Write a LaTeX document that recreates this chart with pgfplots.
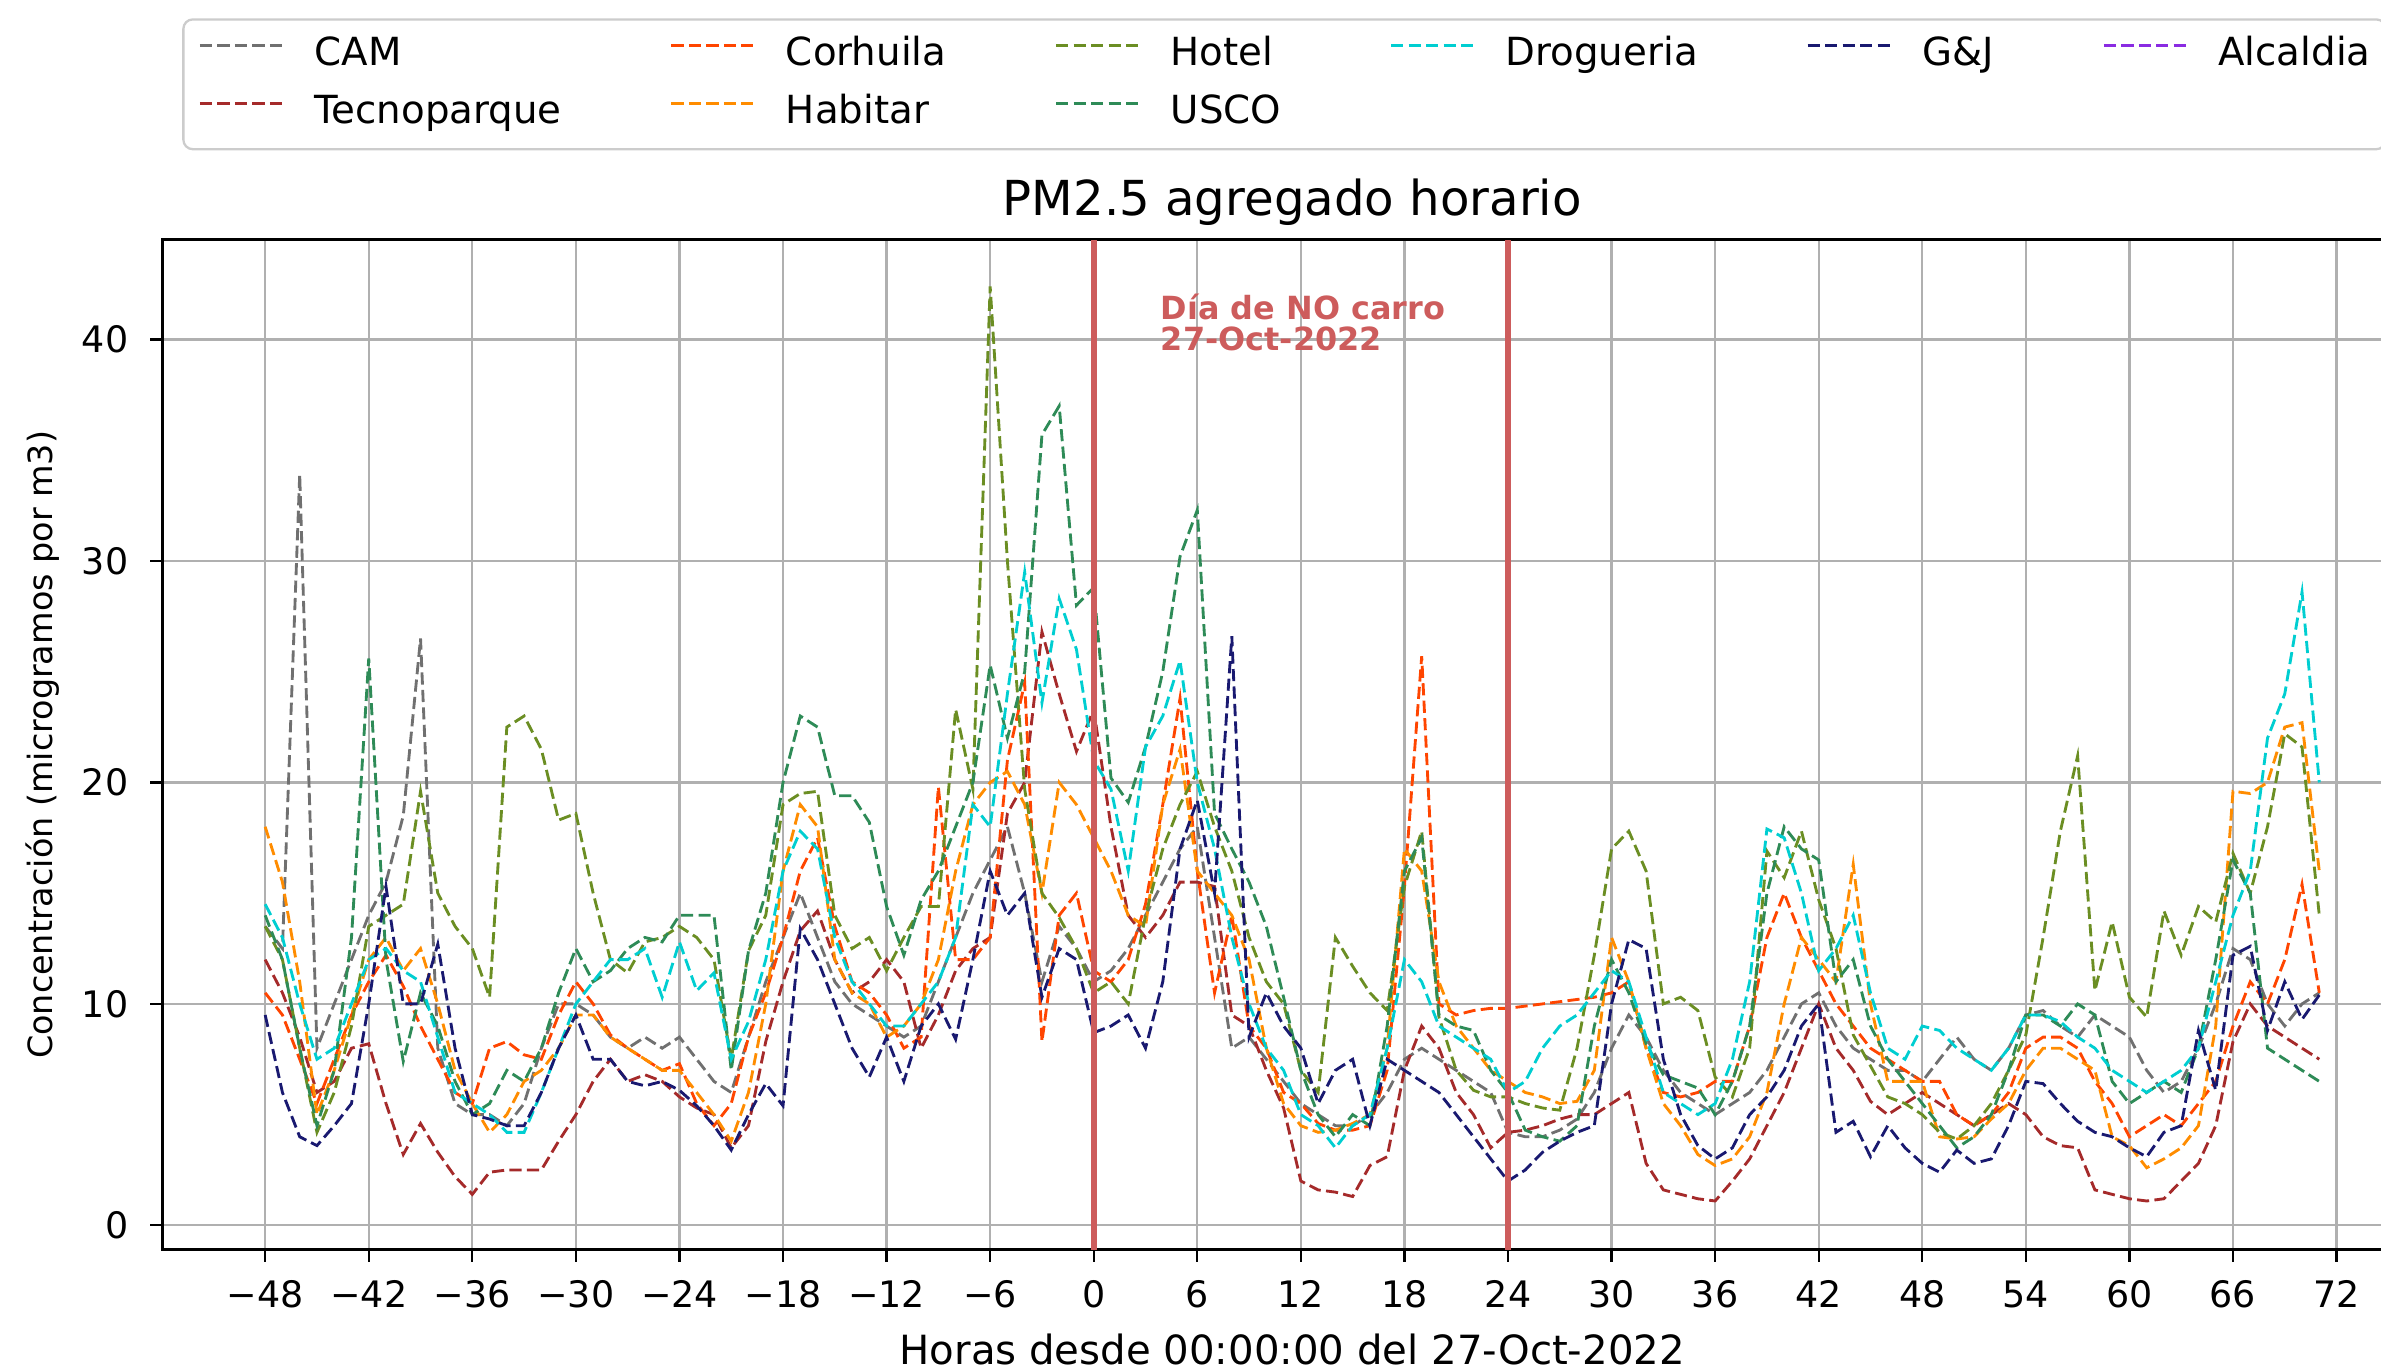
\documentclass[border=0pt]{standalone}
\usepackage{fontspec}
\setmainfont{DejaVu Sans}
\usepackage{pgfplots}
\usepackage{pgfplotstable}
\pgfplotsset{compat=1.18}

\definecolor{camc}{RGB}{112,112,112}
\definecolor{tecc}{RGB}{165,42,42}
\definecolor{corc}{RGB}{255,69,0}
\definecolor{habc}{RGB}{255,140,0}
\definecolor{hotc}{RGB}{107,142,35}
\definecolor{uscc}{RGB}{46,139,87}
\definecolor{droc}{RGB}{0,206,209}
\definecolor{gjc}{RGB}{25,25,112}
\definecolor{alcc}{RGB}{138,43,226}
\definecolor{indianred}{RGB}{205,92,92}

% horas desde 00:00 del 27-Oct-2022, PM2.5 por estacion
\pgfplotstableread{
h    cam  tec  cor  hab  hot  usc  dro  gj
-48 13.5 12 10.5 18 13.5 14 14.5 9.5
-47 12.5 10.5 9.5 15.5 12 12 13 6
-46 33.9 8.5 7.5 11 8 8 10 4
-45 8 6 5.5 5 4.2 4.5 7.5 3.6
-44 10 6.5 7.5 7 6 7 8 4.5
-43 12 8 9.5 9.5 9 13 10 5.5
-42 14 8.2 11 12 13.5 25.6 12 10
-41 15.5 5.5 12.2 13 14 12 12.5 15.3
-40 18.5 3.2 10.8 11.5 14.5 7.4 11.5 10
-39 26.5 4.6 9 12.5 19.6 10.5 11 10
-38 8 3.3 7.5 10 15 9 8.5 12.7
-37 5.5 2.2 6 7 13.5 6.5 6 8
-36 5 1.4 5.5 5.5 12.5 5 5.5 5
-35 5 2.4 8 4.2 10.3 5.5 5 4.8
-34 4.5 2.5 8.3 5 22.5 7 4.2 4.5
-33 5.5 2.5 7.7 6.5 23 6.5 4.2 4.5
-32 8 2.5 7.5 7 21.5 8 6 6
-31 10 3.8 9.5 8 18.3 10.5 8 8
-30 10 5 11 9.5 18.6 12.5 10 9.5
-29 9.5 6.5 10 9.5 15 11 11 7.5
-28 8.5 7.5 8.6 8.5 12 11.5 12 7.5
-27 8 6.5 8 8 11.4 12.5 12 6.5
-26 8.5 6.8 7.5 7.5 12.8 13 12.5 6.3
-25 8 6.5 7 7 13 12.8 10.3 6.5
-24 8.5 5.8 7.3 7 13.5 14 12.8 6.1
-23 7.5 5.3 5.5 6 13 14 10.6 5.4
-22 6.5 5 4.5 5 12 14 11.4 4.5
-21 6 3.5 5.5 3.8 7.5 7 7.5 3.4
-20 8.5 4.5 8.5 6 12.4 12.4 9.2 5
-19 11 8.3 10.5 10 14 15 12 6.4
-18 13 11 13 16 19 20 16 5.4
-17 15 13.3 16 19 19.5 23 17.8 13.4
-16 13 14.2 17.5 18 19.6 22.5 17 12
-15 11 12 13.5 12 14 19.4 13 10
-14 10 10.5 11 10.5 12.5 19.4 11 8
-13 9.5 11 10.5 10 13 18.2 10 6.7
-12 9 12 9.5 8.5 11.5 14.4 9 8.5
-11 8.5 11 8 9 13 12.2 9 6.5
-10 9 8 8.5 10 14.4 14.7 10 9
-9 11 9.5 19.8 12 14.4 16 11 10
-8 13 11.5 12 16 23.3 18 13 8.4
-7 15 12.5 12 19 19.7 20 19 12
-6 16.5 13 13 20 42.4 25.3 18 16
-5 18 18.6 21 20.5 30 22 24 14
-4 15 20 24.5 19 19.7 25 29.5 15
-3 11 26.8 8.3 15 15 35.7 23.6 10.3
-2 13.5 24 14 20 13.9 37 28.3 12.5
-1 12.5 21.4 15 19 12.5 28 26 12
0 11 23.3 11.5 17.5 10.5 28.8 21 8.7
1 11.5 18 11 16 11 20.2 19.7 9
2 12.5 14 12 14 10 19.1 16 9.5
3 14 13 14.5 13.5 14 21.6 21.6 8
4 15.5 14 19 19 17 25 23 11
5 17 15.5 23.8 21.5 19 30.2 25.5 17
6 18 15.5 16 16 20.5 32.3 20 19.2
7 13 15.3 10.5 15 18 18.6 17 15
8 8 9.5 14 14 16 17 13 26.6
9 8.5 9 9 12 13 15.5 10 8.5
10 7.5 7 8 8 11 13.5 8 10.5
11 6.5 5.3 6 5.5 10 10.3 7 9
12 5.5 2 5.5 4.5 7 7 5 8
13 5 1.6 4.6 4.2 6 5 4.5 5.5
14 4.5 1.5 4.3 4.3 13 4 3.5 7
15 4.5 1.3 4.3 4.6 11.7 5 4.5 7.5
16 5 2.7 4.5 5 10.5 4.5 5 4.5
17 6 3.1 7 8 9.7 9 8 7.5
18 7.5 7 15.3 17 15.3 16 12 7
19 8 9 25.7 16 17.8 17.5 11 6.5
20 7.5 8 10 11 9.4 9.5 9 6
21 7 6 9.5 9 7 9 8.5 5
22 6.5 5 9.7 8 6.1 8.8 8 4
23 6 3.5 9.8 7 5.8 7 7.5 3
24 4.2 4.2 9.8 6.5 5.8 6 6 2
25 4 4.3 9.9 6 5.5 4.3 6.5 2.5
26 4 4.5 10 5.8 5.3 4 8 3.3
27 4.3 4.8 10.1 5.5 5.2 3.8 9 3.8
28 4.8 5 10.2 5.6 8 4.5 9.5 4.2
29 6 5 10.3 7 12.2 9 10.5 4.5
30 8 5.5 10.5 13 17 12 11.5 10
31 9.5 6 11 11 17.8 10.5 11 12.9
32 8.5 2.8 8 8 16 8.2 8.5 12.5
33 7 1.6 6 5.5 10 6.8 6 7.5
34 6 1.4 5.8 4.5 10.3 6.5 5.5 5
35 5.5 1.2 6 3.2 9.7 6.2 5 3.6
36 5 1.1 6.5 2.7 6.7 5 5.5 3
37 5.5 2 6.5 3 5.8 6.5 7.5 3.5
38 6 3 9 4 8 9 11 5
39 7 4.5 13 6 16.9 15 17.9 5.8
40 8.5 6 15 10 15.7 18 17.5 7
41 10 8 13 13 17.8 17 15 9
42 10.5 10 11.5 12 14.7 16.5 11.5 10
43 9 8 10 11 12.5 11 12.5 4.2
44 8 7 9 16.3 8.6 12 14 4.7
45 7.5 5.6 8 10 7.2 9 10.5 3.1
46 7 5 7.5 6.5 5.8 7.5 8 4.5
47 7 5.5 7 6.5 5.5 6.5 7.5 3.5
48 6.5 6 6.5 6.5 5 5.5 9 2.8
49 7.5 5.5 6.5 4 4.2 4.5 8.8 2.4
50 8.5 5 5 3.9 3.9 3.5 8 3.4
51 7.5 4.5 4.5 4 4.5 4 7.5 2.8
52 7 5 5 4.8 5.5 5 7 3
53 8 5.5 6 5.5 7 7 8 4.5
54 9.5 5 8 7 8.6 9.5 9.5 6.5
55 9.7 4 8.5 8 13 9.5 9.5 6.4
56 9 3.6 8.5 8 17.8 9 9.2 5.5
57 8.5 3.5 8 7.5 21.2 10 8.5 4.7
58 9.5 1.6 6.5 7 10.6 9.5 8 4.2
59 9 1.4 5.5 4 13.7 6.5 7 4
60 8.5 1.2 4 3.6 10.3 5.5 6.5 3.5
61 7 1.1 4.5 2.6 9.4 6 6 3.1
62 6 1.2 5 3 14.2 6.5 6.5 4.2
63 6.5 2 4.5 3.5 12.2 6 7 4.5
64 8 2.8 5.5 4.5 14.4 8 8 8.8
65 10 4.5 6.5 9 13.7 12 11 6.1
66 12.5 8.3 9 19.6 16.8 16.5 14 12.2
67 12 10 11 19.5 15 15 16 12.6
68 10 9 10 20 18 8 22 8.8
69 9 8.5 12 22.5 22.2 7.5 24 11
70 10 8 15.4 22.7 21.6 7 28.6 9.3
71 10.5 7.5 10.5 16 14 6.5 20 10.4
}\pm

\begin{document}
\begin{tikzpicture}
\begin{axis}[
  scale only axis,
  width=595.2pt, height=266pt,
  xmin=-53.95, xmax=76.95,
  ymin=-1.1, ymax=44.5,
  xtick={-48,-42,...,72},
  xticklabels={−48,−42,−36,−30,−24,−18,−12,−6,0,6,12,18,24,30,36,42,48,54,60,66,72},
  ytick={0,10,20,30,40},
  yticklabels={0,10,20,30,40},
  tick align=outside,
  major tick length=3.2pt,
  tick style={black, line width=0.6pt},
  xtick pos=bottom, ytick pos=left,
  axis line style={line width=0.8pt},
  grid=major,
  major grid style={color=black!31, line width=0.6pt},
  every tick label/.append style={font=\fontsize{9.6}{11}\selectfont},
  xticklabel style={anchor=base, inner sep=0pt, yshift=-12pt},
  yticklabel style={anchor=east, inner sep=0pt, xshift=-5.6pt},
  title={PM2.5 agregado horario},
  title style={font=\fontsize{12.7}{15}\selectfont, at={(axis description cs:0.5,1.0015)}, anchor=base},
  xlabel={Horas desde 00:00:00 del 27-Oct-2022},
  xlabel style={font=\fontsize{10.6}{12}\selectfont, at={(axis description cs:0.5,-0.0992)}, anchor=center},
  ylabel={Concentración (microgramos por m3)},
  ylabel style={font=\fontsize{8.8}{10}\selectfont, at={(axis description cs:-0.0531,0.5)}, anchor=center},
  every axis plot/.append style={line width=0.75pt, dash pattern=on 3.2pt off 1.4pt},
  legend image code/.code={\draw[#1] (0pt,2.6pt) -- (22pt,2.6pt);},
  legend columns=6,
  legend cell align=left,
  legend style={
    at={(axis description cs:0.00874,1.2195)}, anchor=north west,
    draw=black!20, line width=0.6pt, rounded corners=2.5pt, fill=white,
    inner xsep=4pt, inner ysep=4.5pt,
    font=\fontsize{10.2}{12}\selectfont,
    nodes={inner sep=0pt, text height=7.6pt, text depth=2.4pt},
    row sep=5.2pt,
    /tikz/every odd column/.append style={column sep=7.8pt},
    /tikz/every even column/.append style={column sep=28.6pt},
  },
]
\addplot[camc, forget plot] table[x=h, y=cam] {\pm};
\addplot[tecc, forget plot] table[x=h, y=tec] {\pm};
\addplot[corc, forget plot] table[x=h, y=cor] {\pm};
\addplot[habc, forget plot] table[x=h, y=hab] {\pm};
\addplot[hotc, forget plot] table[x=h, y=hot] {\pm};
\addplot[uscc, forget plot] table[x=h, y=usc] {\pm};
\addplot[droc, forget plot] table[x=h, y=dro] {\pm};
\addplot[gjc, forget plot] table[x=h, y=gj] {\pm};

% lineas del dia sin carro
\addplot[indianred, line width=1.7pt, solid, forget plot] coordinates {(0,-1.1) (0,44.5)};
\addplot[indianred, line width=1.7pt, solid, forget plot] coordinates {(24,-1.1) (24,44.5)};

\node[anchor=north west, inner sep=0pt, text=indianred, align=left,
  font=\bfseries\fontsize{8.4}{8.2}\selectfont] at (axis cs:3.85,42.1)
  {Día de NO carro\\27-Oct-2022};

% leyenda en el orden de matplotlib (por columnas)
\addlegendimage{camc}\addlegendentry{CAM}
\addlegendimage{corc}\addlegendentry{Corhuila}
\addlegendimage{hotc}\addlegendentry{Hotel}
\addlegendimage{droc}\addlegendentry{Drogueria}
\addlegendimage{gjc}\addlegendentry{G\&J}
\addlegendimage{alcc}\addlegendentry{Alcaldia}
\addlegendimage{tecc}\addlegendentry{Tecnoparque}
\addlegendimage{habc}\addlegendentry{Habitar}
\addlegendimage{uscc}\addlegendentry{USCO}
\addlegendimage{empty legend}\addlegendentry{}
\addlegendimage{empty legend}\addlegendentry{}
\addlegendimage{empty legend}\addlegendentry{}
\end{axis}
\pgfresetboundingbox
\useasboundingbox (-42.8pt,-31.6pt) rectangle (584.4pt,329.2pt);
\end{tikzpicture}
\end{document}
